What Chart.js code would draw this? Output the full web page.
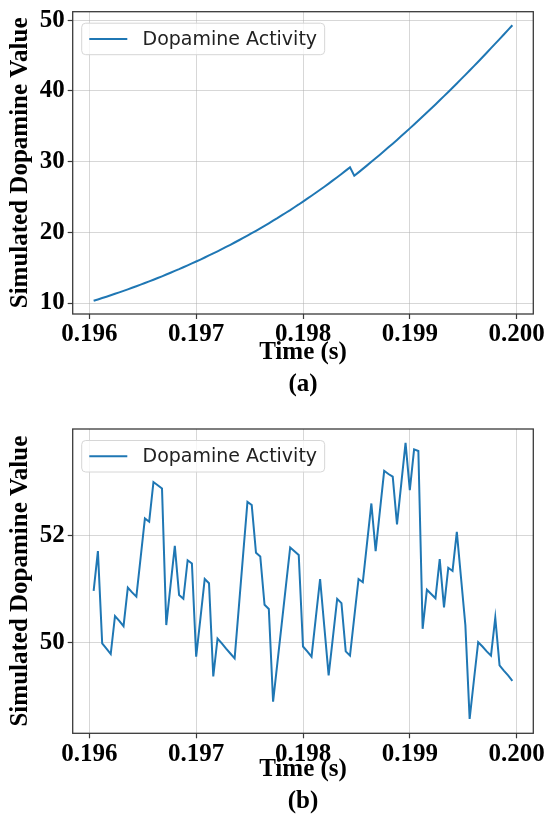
<!DOCTYPE html>
<html>
<head>
<meta charset="utf-8">
<title>Dopamine Activity</title>
<script src="https://cdn.jsdelivr.net/npm/chart.js"></script>
<style>
    html, body { margin: 0; padding: 0; background: #fff; overflow: hidden; }
    #wrap { position: relative; width: 547px; height: 815px; }
    .panel { position: absolute; left: 0; width: 547px; }
    #panelA { top: 0; height: 401px; }
    #panelB { top: 401px; height: 417px; }
</style>
</head>
<body>
<div id="wrap">
    <div class="panel" id="panelA"><canvas id="chartA" width="547" height="401"></canvas></div>
    <div class="panel" id="panelB"><canvas id="chartB" width="547" height="417"></canvas></div>
</div>
<script>
// sample times (s)
var timeSec = [
    0.19604, 0.19608, 0.19612, 0.19616, 0.19620, 0.19624, 0.19628, 0.19632, 0.19636, 0.19640,
    0.19644, 0.19648, 0.19652, 0.19656, 0.19660, 0.19664, 0.19668, 0.19672, 0.19676, 0.19680,
    0.19684, 0.19688, 0.19692, 0.19696, 0.19700, 0.19704, 0.19708, 0.19712, 0.19716, 0.19720,
    0.19724, 0.19728, 0.19732, 0.19736, 0.19740, 0.19744, 0.19748, 0.19752, 0.19756, 0.19760,
    0.19764, 0.19768, 0.19772, 0.19776, 0.19780, 0.19784, 0.19788, 0.19792, 0.19796, 0.19800,
    0.19804, 0.19808, 0.19812, 0.19816, 0.19820, 0.19824, 0.19828, 0.19832, 0.19836, 0.19840,
    0.19844, 0.19848, 0.19852, 0.19856, 0.19860, 0.19864, 0.19868, 0.19872, 0.19876, 0.19880,
    0.19884, 0.19888, 0.19892, 0.19896, 0.19900, 0.19904, 0.19908, 0.19912, 0.19916, 0.19920,
    0.19924, 0.19928, 0.19932, 0.19936, 0.19940, 0.19944, 0.19948, 0.19952, 0.19956, 0.19960,
    0.19964, 0.19968, 0.19972, 0.19976, 0.19980, 0.19984, 0.19988, 0.19992, 0.19996
];

// (a) growing dopamine level
var dopamineA = [
    10.32, 10.51, 10.71, 10.90, 11.10, 11.31, 11.51, 11.72, 11.94, 12.16,
    12.38, 12.60, 12.83, 13.06, 13.30, 13.54, 13.78, 14.03, 14.28, 14.54,
    14.79, 15.06, 15.33, 15.60, 15.87, 16.15, 16.44, 16.73, 17.02, 17.32,
    17.62, 17.93, 18.24, 18.56, 18.88, 19.21, 19.54, 19.88, 20.22, 20.57,
    20.92, 21.28, 21.65, 22.01, 22.39, 22.77, 23.15, 23.55, 23.94, 24.35,
    24.76, 25.17, 25.59, 26.02, 26.45, 26.89, 27.34, 27.79, 28.25, 28.72,
    29.19, 28.00, 28.48, 28.97, 29.47, 29.97, 30.47, 30.98, 31.50, 32.02,
    32.54, 33.07, 33.61, 34.15, 34.70, 35.25, 35.81, 36.37, 36.94, 37.51,
    38.09, 38.67, 39.26, 39.85, 40.45, 41.05, 41.66, 42.27, 42.89, 43.51,
    44.13, 44.76, 45.40, 46.04, 46.68, 47.32, 47.98, 48.63, 49.29
];

// (b) fluctuating dopamine level
var dopamineB = [
    50.96, 51.70, 49.98, 49.88, 49.78, 50.49, 50.40, 50.30, 51.02, 50.93,
    50.85, 51.58, 52.31, 52.25, 52.99, 52.93, 52.87, 50.32, 51.06, 51.80,
    50.88, 50.81, 51.53, 51.47, 49.73, 50.45, 51.18, 51.10, 49.36, 50.07,
    49.98, 49.88, 49.79, 49.70, 50.67, 51.65, 52.62, 52.56, 51.67, 51.60,
    50.70, 50.62, 48.89, 49.61, 50.33, 51.05, 51.77, 51.70, 51.63, 49.92,
    49.83, 49.73, 50.46, 51.18, 50.28, 49.38, 50.09, 50.81, 50.73, 49.83,
    49.75, 50.47, 51.18, 51.12, 51.86, 52.59, 51.70, 52.45, 53.20, 53.14,
    53.09, 52.20, 52.96, 53.72, 52.84, 53.60, 53.57, 50.25, 50.98, 50.90,
    50.82, 51.55, 50.65, 51.39, 51.33, 52.06, 51.19, 50.32, 48.57, 49.29,
    50.00, 49.92, 49.83, 49.75, 50.46, 49.57, 49.47, 49.38, 49.28
];

var timeTicks = [0.196, 0.197, 0.198, 0.199, 0.200];
var valueTicksA = [10, 20, 30, 40, 50];
var valueTicksB = [50, 52];
var seriesLabel = 'Dopamine Activity';

var serifFont = "'Liberation Serif', 'Times New Roman', serif";
var lineColor = '#1f77b4';
var gridColor = 'rgba(176, 176, 176, 0.5)';
var frameColor = '#3a3a3a';

/*
 * Axes frame + legend drawn inside the plot, upper left
 */
var frameAndLegend = {
    id: 'frameAndLegend',
    afterDatasetsDraw: function (chart) {
        var ctx = chart.ctx;
        var area = chart.chartArea;

        ctx.save();
        ctx.strokeStyle = frameColor;
        ctx.lineWidth = 1.3;
        ctx.strokeRect(area.left, area.top, area.right - area.left, area.bottom - area.top);

        var fs = 19;
        var label = chart.data.datasets[0].label;
        ctx.font = fs + "px 'DejaVu Sans', sans-serif";
        var textW = ctx.measureText(label).width;
        var pad = 0.4 * fs, handle = 2 * fs, gap = 0.8 * fs;
        var x0 = area.left + 9, y0 = area.top + 11.5;
        var w = pad + handle + gap + textW + pad, h = 31.5;
        var r = 4;

        ctx.beginPath();
        ctx.moveTo(x0 + r, y0);
        ctx.arcTo(x0 + w, y0, x0 + w, y0 + h, r);
        ctx.arcTo(x0 + w, y0 + h, x0, y0 + h, r);
        ctx.arcTo(x0, y0 + h, x0, y0, r);
        ctx.arcTo(x0, y0, x0 + w, y0, r);
        ctx.closePath();
        ctx.fillStyle = 'rgba(255, 255, 255, 0.8)';
        ctx.fill();
        ctx.strokeStyle = '#d6d6d6';
        ctx.lineWidth = 1;
        ctx.stroke();

        var cy = y0 + h / 2;
        ctx.beginPath();
        ctx.moveTo(x0 + pad, cy);
        ctx.lineTo(x0 + pad + handle, cy);
        ctx.strokeStyle = lineColor;
        ctx.lineWidth = 2;
        ctx.stroke();

        ctx.fillStyle = '#222';
        ctx.textBaseline = 'middle';
        ctx.textAlign = 'left';
        ctx.fillText(label, x0 + pad + handle + gap, cy + 1);
        ctx.restore();
    }
};

function BuildChart(canvasId, values, valueTicks, yMin, yMax, tag, topPad, xAxisHeight) {
    var points = $map(timeSec, values);
    var boldFont = { family: serifFont, size: 25, weight: 'bold', lineHeight: 1.2 };

    return new Chart(document.getElementById(canvasId), {
        type: 'line',
        data: {
            datasets: [{
                label: seriesLabel,
                data: points,
                borderColor: lineColor,
                borderWidth: 2,
                pointRadius: 0,
                tension: 0,
                fill: false
            }]
        },
        options: {
            responsive: false,
            animation: false,
            layout: { padding: { top: topPad, right: 13.7, bottom: 0, left: 0 } },
            plugins: {
                legend: { display: false },
                tooltip: { enabled: false }
            },
            scales: {
                x: {
                    type: 'linear',
                    min: 0.195844,
                    max: 0.200156,
                    afterBuildTicks: function (scale) {
                        scale.ticks = timeTicks.map(function (v) { return { value: v }; });
                    },
                    afterFit: function (scale) {
                        scale.height = xAxisHeight;
                        scale.paddingLeft = 0;
                        scale.paddingRight = 0;
                    },
                    grid: { color: gridColor, lineWidth: 1, tickLength: 5, tickColor: frameColor, tickWidth: 1.2 },
                    border: { display: false },
                    ticks: {
                        color: '#000',
                        font: boldFont,
                        padding: 1,
                        maxRotation: 0,
                        autoSkip: false,
                        callback: function (v) { return v.toFixed(3); }
                    },
                    title: {
                        display: true,
                        text: ['Time (s)', tag],
                        color: '#000',
                        font: { family: serifFont, size: 25, weight: 'bold', lineHeight: 1.28 },
                        padding: { top: 0, bottom: 0 }
                    }
                },
                y: {
                    type: 'linear',
                    min: yMin,
                    max: yMax,
                    afterBuildTicks: function (scale) {
                        scale.ticks = valueTicks.map(function (v) { return { value: v }; });
                    },
                    afterFit: function (scale) {
                        scale.width = 72.7;
                        scale.paddingTop = 0;
                        scale.paddingBottom = 0;
                    },
                    grid: { color: gridColor, lineWidth: 1, tickLength: 5, tickColor: frameColor, tickWidth: 1.2 },
                    border: { display: false },
                    ticks: {
                        color: '#000',
                        font: boldFont,
                        padding: 3,
                        callback: function (v) { return String(v); }
                    },
                    title: {
                        display: true,
                        text: 'Simulated Dopamine Value',
                        color: '#000',
                        font: boldFont,
                        padding: { top: 6, bottom: 0 }
                    }
                }
            }
        },
        plugins: [frameAndLegend]
    });
}

// pair each time with its value
function $map(xs, ys) {
    return xs.map(function (x, i) { return { x: x, y: ys[i] }; });
}

BuildChart('chartA', dopamineA, valueTicksA, 8.45, 51.2, '(a)', 11.7, 87);
BuildChart('chartB', dopamineB, valueTicksB, 48.30, 53.98, '(b)', 28, 84.7);
</script>
</body>
</html>
